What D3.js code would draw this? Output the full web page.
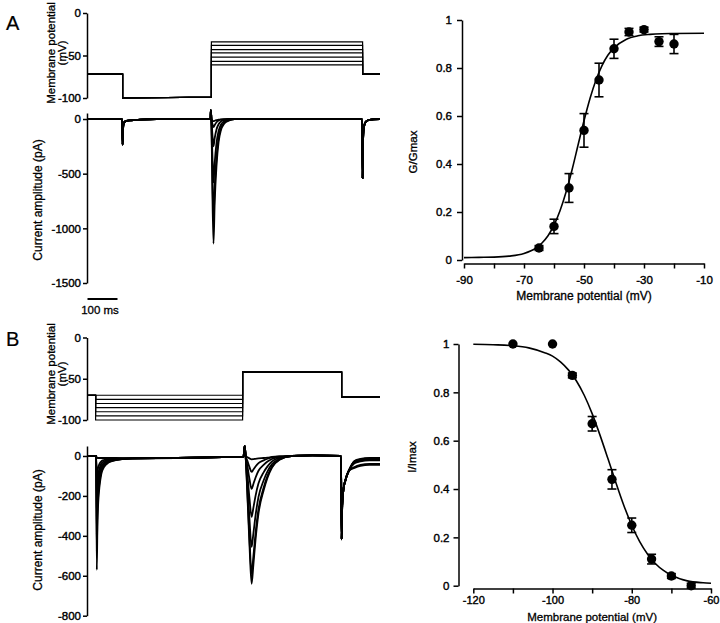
<!DOCTYPE html>
<html><head><meta charset="utf-8">
<script src="https://cdn.jsdelivr.net/npm/d3@7"></script>
<style>
body{margin:0;background:#fff}
svg{display:block}
text{font-family:"Liberation Sans",Arial,Helvetica,sans-serif;fill:#000;stroke:#000;stroke-width:0.4px}
</style>
</head><body>
<svg id="fig" width="720" height="623"></svg>
<script>
// ---------------- DATA ----------------
// Panel A, right: G/Gmax activation curve
const gVoltage = [-65,-60,-55,-50,-45,-40,-35,-30,-25,-20];
const gValue   = [0.05,0.14,0.30,0.54,0.75,0.88,0.95,0.96,0.91,0.90];
const gError   = [0.01,0.03,0.06,0.07,0.07,0.04,0.015,0.01,0.02,0.04];
const gFitV = [-90,-85,-80,-75,-70,-66,-64,-62,-60,-58,-56,-54,-52,-50,-48,-46,-44,-42,-40,-36,-32,-28,-24,-20,-10];
const gFitY = [0.010,0.011,0.012,0.016,0.027,0.050,0.071,0.101,0.145,0.205,0.282,0.375,0.478,0.580,0.673,0.750,0.810,0.854,0.884,0.919,0.934,0.940,0.943,0.944,0.945];
const gTicksX = [-90,-80,-70,-60,-50,-40,-30,-20,-10];
const gLabelsX = [-90,-70,-50,-30,-10];
const gTicksY = [0,0.2,0.4,0.6,0.8,1];

// Panel B, right: I/Imax inactivation curve
const iVoltage = [-110,-100,-95,-90,-85,-80,-75,-70,-65];
const iValue   = [1.0,1.0,0.87,0.67,0.44,0.25,0.11,0.04,0.0];
const iError   = [0,0,0.01,0.03,0.04,0.03,0.02,0.01,0.01];
const iFitV = [-120,-115,-110,-106,-102,-100,-98,-96,-94,-92,-90,-88,-86,-84,-82,-80,-78,-76,-74,-72,-70,-66,-62,-60];
const iFitY = [0.999,0.997,0.993,0.984,0.964,0.950,0.926,0.893,0.848,0.788,0.712,0.622,0.525,0.426,0.332,0.250,0.182,0.130,0.091,0.063,0.043,0.020,0.012,0.010];
const iTicksX = [-120,-110,-100,-90,-80,-70,-60];
const iLabelsX = [-120,-100,-80,-60];
const iTicksY = [0,0.2,0.4,0.6,0.8,1];

// Panel A, voltage protocol (ms, mV)
const aProtocolTimes = [0,117,413,917,975];
const aHoldLevel = -72, aPreLevel = -100, aPreLevelEnd = -99;
const aStepLevels = [-34,-38,-43,-47,-52,-57,-61];
const aVoltTicks = [0,-50,-100];

// Panel A, current traces (ms, pA)
const aTimes = [0,115,117,118,119,121,124,130,145,175,230,410,411,413,416,420,424,430,437,445,455,470,490,600,800,915,917,918,920,923,928,940,975];
const aCurrentStart = [0,0,-235,-120,-70,-40,-25,-18,-12,-6,0,0,80,0];
const aPeaks = [
  [-600,-1140,-760,-430,-210,-100,-45,-15,0],
  [-480,-920,-620,-350,-170,-80,-35,-12,0],
  [-300,-580,-400,-220,-110,-50,-22,-8,0],
  [-130,-250,-175,-95,-48,-22,-10,-4,0],
  [-40,-75,-55,-30,-14,-6,-3,-1,0],
  [-12,-20,-16,-11,-6,-3,-1,0,0]
];
const aCurrentEnd = [0,0,0,-540,-250,-110,-55,-25,-8,0];
const aCurrTicks = [0,-500,-1000,-1500];

// Panel B, voltage protocol
const bProtocolTimes = [2,27,517,847,975];
const bHoldLevel = -70, bTestLevel = -42, bEndLevel = -72;
const bPreLevels = [-70,-75,-80,-85,-90,-95,-100];
const bVoltTicks = [0,-50,-100];

// Panel B, current traces
const bTimes = [0,29,31,33,36,40,46,55,70,95,150,300,450,520,524,527,532,540,547,553,560,570,587,600,615,640,680,750,845,847,849,853,860,871,890,910,940,975];
const bCapTransients = [
  [-570,-352,-227,-153,-90,-56,-33,-21],
  [-480,-298,-192,-130,-77,-48,-29,-20],
  [-390,-244,-158,-108,-65,-41,-26,-18],
  [-300,-190,-124,-85,-52,-34,-22,-16],
  [-210,-136,-90,-63,-39,-27,-18,-14],
  [-120,-82,-56,-40,-27,-20,-15,-12],
  [-8,-10,-10,-10,-10,-10,-10,-10]
];
const bBaseline = [-12,-10,-6,-3,50,0];
const bTestPeaks = [
  [-160,-448,-640,-544,-422,-288,-173,-109,-58,-19],
  [-148,-413,-590,-502,-389,-266,-159,-100,-53,-18],
  [-114,-319,-455,-387,-300,-205,-123,-77,-41,-14],
  [-76,-214,-305,-259,-201,-137,-82,-52,-27,-9],
  [-41,-116,-165,-140,-109,-74,-45,-28,-15,-5],
  [-20,-56,-80,-68,-53,-36,-22,-14,-7,-2],
  [-5,-12,-17,-16,-14,-12,-10,-8,-5,-2]
];
const bAfterTest = [0,3,0,-417,-250,-170,-120,-75];
const bTails = [
  [-60,-50,-45,-45],
  [-55,-45,-40,-40],
  [-37,-27,-22,-22],
  [-33,-23,-18,-18],
  [-30,-20,-15,-15],
  [-27,-17,-12,-12],
  [-25,-15,-10,-10]
];
const bCurrTicks = [0,-200,-400,-600,-800];

// ---------------- DRAWING ----------------
const svg = d3.select("#fig");
const fmt = d => String(d);
const ink = "#000";

function styleAxis(g, size){
  g.selectAll("path.domain").attr("stroke",ink).attr("stroke-width",1.5);
  g.selectAll(".tick line").attr("stroke",ink).attr("stroke-width",1.5);
  g.selectAll(".tick text").attr("fill",ink).style("font-size",(size||11.5)+"px")
    .style("font-family",'"Liberation Sans",Arial,sans-serif');
}
function rotLabel(x,y,txt,size){
  svg.append("text").attr("transform",`translate(${x},${y}) rotate(-90)`)
    .attr("text-anchor","middle").style("font-size",size+"px").style("stroke-width","0.3px").text(txt);
}

// time scale shared by left panels
const xT = d3.scaleLinear().domain([0,975]).range([87.5,380]);

// ---- A voltage ----
const aVy = d3.scaleLinear().domain([-100,0]).range([98,13]);
svg.append("g").attr("transform","translate(87,0)")
  .call(d3.axisLeft(aVy).tickValues(aVoltTicks).tickFormat(fmt).tickSize(4).tickSizeOuter(0).tickPadding(2))
  .call(g=>styleAxis(g));
const vLine = (ys) => d3.line().x(d=>xT(d[0])).y(d=>ys(d[1]));
const [a0,a1,a2,a3,a4] = aProtocolTimes;
aStepLevels.forEach(v=>{
  const pts = [[a0,aHoldLevel],[a1,aHoldLevel],[a1,aPreLevel],[a2,aPreLevelEnd],[a2,v],[a3,v],[a3,aHoldLevel],[a4,aHoldLevel]];
  svg.append("path").attr("d",vLine(aVy)(pts)).attr("fill","none").attr("stroke",ink).attr("stroke-width",1.2);
});
rotLabel(55,53,"Membrane potential",11.5);
rotLabel(66,53,"(mV)",11.5);

// ---- A current ----
const aIy = d3.scaleLinear().domain([-1500,55]).range([283,113]);
svg.append("g").attr("transform","translate(87,0)")
  .call(d3.axisLeft(aIy).tickValues(aCurrTicks).tickFormat(fmt).tickSize(4).tickSizeOuter(0).tickPadding(2))
  .call(g=>styleAxis(g));
const traceLine = (ys)=> d3.line().x(d=>xT(d[0])).y(d=>ys(d[1])).curve(d3.curveMonotoneX);
aPeaks.forEach(pk=>{
  const vals = aCurrentStart.concat(pk, aCurrentEnd);
  const pts = aTimes.map((t,i)=>[t,vals[i]]);
  svg.append("path").attr("d",traceLine(aIy)(pts)).attr("fill","none").attr("stroke",ink).attr("stroke-width",1.8).attr("stroke-linejoin","round");
});
rotLabel(42,200,"Current amplitude (pA)",12);
// scale bar
svg.append("line").attr("x1",xT(0)).attr("x2",xT(100)).attr("y1",299).attr("y2",299).attr("stroke",ink).attr("stroke-width",2);
svg.append("text").attr("x",100).attr("y",314).attr("text-anchor","middle").style("font-size","11.5px").style("stroke-width","0.3px").text("100 ms");
svg.append("text").attr("x",6).attr("y",30).style("font-size","20px").style("stroke-width","0.2px").text("A");

// ---- B voltage ----
const bVy = d3.scaleLinear().domain([-100,0]).range([420,337.5]);
svg.append("g").attr("transform","translate(87,0)")
  .call(d3.axisLeft(bVy).tickValues(bVoltTicks).tickFormat(fmt).tickSize(4).tickSizeOuter(0).tickPadding(2))
  .call(g=>styleAxis(g));
const [b0,b1,b2,b3,b4] = bProtocolTimes;
bPreLevels.forEach(v=>{
  const pts = [[b0,bHoldLevel],[b1,bHoldLevel],[b1,v],[b2,v],[b2,bTestLevel],[b3,bTestLevel],[b3,bEndLevel],[b4,bEndLevel]];
  svg.append("path").attr("d",vLine(bVy)(pts)).attr("fill","none").attr("stroke",ink).attr("stroke-width",1.2);
});
rotLabel(55,374,"Membrane potential",11.5);
rotLabel(66,374,"(mV)",11.5);
svg.append("text").attr("x",6).attr("y",346).style("font-size","20px").style("stroke-width","0.2px").text("B");

// ---- B current ----
const bIy = d3.scaleLinear().domain([-800,50]).range([615.7,446]);
svg.append("g").attr("transform","translate(87,0)")
  .call(d3.axisLeft(bIy).tickValues(bCurrTicks).tickFormat(fmt).tickSize(4).tickSizeOuter(0).tickPadding(2))
  .call(g=>styleAxis(g));
bTestPeaks.forEach((pk,k)=>{
  const vals = [0,0].concat(bCapTransients[k], bBaseline, pk, bAfterTest, bTails[k]);
  const pts = bTimes.map((t,i)=>[t,vals[i]]);
  svg.append("path").attr("d",traceLine(bIy)(pts)).attr("fill","none").attr("stroke",ink).attr("stroke-width",1.8).attr("stroke-linejoin","round");
});
rotLabel(42,530,"Current amplitude (pA)",12);

// ---- Right plots ----
function doseCurve(opts){
  const {xs, ys, xAxisY, yAxisX, ticksX, labelsX, ticksY, vx, vy, ve, fx, fy, yTitle, yTitleX, yTitleY, xTitleY, xTitleSize, xTickSize, tickLen, padX, padY} = opts;
  svg.append("g").attr("transform",`translate(0,${xAxisY})`)
    .call(d3.axisBottom(xs).tickValues(ticksX).tickFormat(d=>labelsX.includes(d)?fmt(d):"").tickSize(tickLen).tickSizeOuter(0).tickPadding(padX))
    .call(g=>styleAxis(g, xTickSize));
  svg.append("g").attr("transform",`translate(${yAxisX},0)`)
    .call(d3.axisLeft(ys).tickValues(ticksY).tickFormat(fmt).tickSize(tickLen).tickSizeOuter(0).tickPadding(padY))
    .call(g=>styleAxis(g));
  const pts = fx.map((v,i)=>[v,fy[i]]);
  svg.append("path").attr("d",d3.line().x(d=>xs(d[0])).y(d=>ys(d[1])).curve(d3.curveMonotoneX)(pts))
    .attr("fill","none").attr("stroke",ink).attr("stroke-width",1.6);
  vx.forEach((v,i)=>{
    const x = xs(v), e = ve[i];
    if(e>0){
      const y1 = ys(vy[i]-e), y2 = ys(vy[i]+e);
      svg.append("line").attr("x1",x).attr("x2",x).attr("y1",y1).attr("y2",y2).attr("stroke",ink).attr("stroke-width",1.6);
      [y1,y2].forEach(yy=>svg.append("line").attr("x1",x-4.5).attr("x2",x+4.5).attr("y1",yy).attr("y2",yy).attr("stroke",ink).attr("stroke-width",1.6));
    }
    svg.append("circle").attr("cx",x).attr("cy",ys(vy[i])).attr("r",4.7).attr("fill",ink);
  });
  rotLabel(yTitleX, yTitleY, yTitle, 11.5);
  svg.append("text").attr("x",(xs.range()[0]+xs.range()[1])/2).attr("y",xTitleY).attr("text-anchor","middle")
    .style("font-size",xTitleSize+"px").style("stroke-width","0.3px").text("Membrane potential (mV)");
}
doseCurve({
  xs: d3.scaleLinear().domain([-90,-10]).range([464,704]),
  ys: d3.scaleLinear().domain([0,1]).range([260,20]),
  xAxisY: 263.5, yAxisX: 462, ticksX: gTicksX, labelsX: gLabelsX, ticksY: gTicksY,
  vx: gVoltage, vy: gValue, ve: gError, fx: gFitV, fy: gFitY,
  yTitle: "G/Gmax", yTitleX: 417, yTitleY: 152, xTitleY: 300, xTitleSize: 12, xTickSize: 11.5, tickLen: 5, padX: 7, padY: 5
});
doseCurve({
  xs: d3.scaleLinear().domain([-120,-60]).range([473.3,711]),
  ys: d3.scaleLinear().domain([0,1]).range([585.7,344]),
  xAxisY: 588.5, yAxisX: 458.5, ticksX: iTicksX, labelsX: iLabelsX, ticksY: iTicksY,
  vx: iVoltage, vy: iValue, ve: iError, fx: iFitV, fy: iFitY,
  yTitle: "I/Imax", yTitleX: 416, yTitleY: 457, xTitleY: 620.5, xTitleSize: 11.5, xTickSize: 11, tickLen: 5, padX: 3, padY: 4
});
</script>
</body></html>
